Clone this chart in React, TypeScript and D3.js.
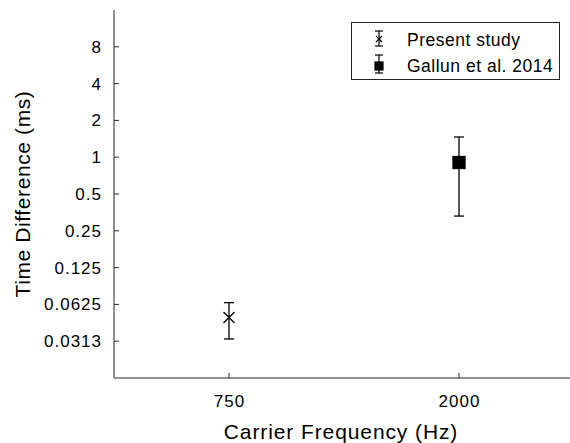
import React from "react";
import * as d3 from "d3";

const categories = ["750", "2000"];
const yTickValues = [0.03125, 0.0625, 0.125, 0.25, 0.5, 1, 2, 4, 8];
const yTickLabels = ["0.0313", "0.0625", "0.125", "0.25", "0.5", "1", "2", "4", "8"];

const presentStudy = [{ cat: "750", mean: 0.0488, lo: 0.0326, hi: 0.0646 }];
const gallun2014 = [{ cat: "2000", mean: 0.905, lo: 0.33, hi: 1.463 }];

const W = 570;
const H = 443;
const left = 114;
const bottom = 378;
const top = 10;
const FONT = "Liberation Sans, Arial, Helvetica, sans-serif";

export default function App() {
  const x = d3.scaleLinear().domain([0.5, 2.5]).range([left, 574]);
  const xc = (c: string) => x(categories.indexOf(c) + 1);
  const y = d3.scaleLog().base(2).domain([Math.pow(2, -6), 16]).range([bottom, top]);
  const cap = 5;
  const tickLS = 1.0;

  return (
    <svg width={W} height={H} style={{ position: "absolute", left: 0, top: 0, background: "#fff" }} fontFamily={FONT}>
      <rect width={W} height={H} fill="#fff" />
      {/* axes */}
      <line x1={left} x2={left} y1={top} y2={bottom} stroke="#262626" strokeWidth={1} />
      <line x1={left} x2={W} y1={bottom} y2={bottom} stroke="#262626" strokeWidth={1} />
      {yTickValues.map((v, i) => (
        <g key={i}>
          <line x1={left} x2={left + 5} y1={y(v)} y2={y(v)} stroke="#262626" />
          <text
            x={left - 13 + tickLS}
            y={y(v)}
            dy="0.35em"
            textAnchor="end"
            fontSize={17}
            letterSpacing={tickLS}
            fill="#000"
          >
            {yTickLabels[i]}
          </text>
        </g>
      ))}
      {categories.map((c) => (
        <g key={c}>
          <line x1={xc(c)} x2={xc(c)} y1={bottom} y2={bottom - 5} stroke="#262626" />
          <text x={xc(c) + tickLS / 2} y={bottom + 29} textAnchor="middle" fontSize={17} letterSpacing={tickLS} fill="#000">
            {c}
          </text>
        </g>
      ))}
      <text x={(left + 574) / 2 - 3} y={439} textAnchor="middle" fontSize={21} letterSpacing={0.9} fill="#000">
        Carrier Frequency (Hz)
      </text>
      <text
        transform={`translate(30,${(top + bottom) / 2}) rotate(-90)`}
        textAnchor="middle"
        fontSize={21}
        letterSpacing={0.6}
        fill="#000"
      >
        Time Difference (ms)
      </text>

      {/* present study */}
      {presentStudy.map((d) => {
        const cx = xc(d.cat);
        const cy = y(d.mean);
        return (
          <g key={d.cat} stroke="#000" strokeWidth={1.3} fill="none">
            <line x1={cx} x2={cx} y1={y(d.hi)} y2={y(d.lo)} />
            <line x1={cx - cap} x2={cx + cap} y1={y(d.hi)} y2={y(d.hi)} />
            <line x1={cx - cap} x2={cx + cap} y1={y(d.lo)} y2={y(d.lo)} />
            <path d={`M${cx - 5.5},${cy - 5.5}L${cx + 5.5},${cy + 5.5}M${cx - 5.5},${cy + 5.5}L${cx + 5.5},${cy - 5.5}`} />
          </g>
        );
      })}
      {/* Gallun */}
      {gallun2014.map((d) => {
        const cx = xc(d.cat);
        const cy = y(d.mean);
        return (
          <g key={d.cat} stroke="#000" strokeWidth={1.3}>
            <line x1={cx} x2={cx} y1={y(d.hi)} y2={y(d.lo)} />
            <line x1={cx - cap} x2={cx + cap} y1={y(d.hi)} y2={y(d.hi)} />
            <line x1={cx - cap} x2={cx + cap} y1={y(d.lo)} y2={y(d.lo)} />
            <rect x={cx - 6} y={cy - 6} width={12} height={12} fill="#000" />
          </g>
        );
      })}

      {/* legend */}
      <rect x={351.5} y={22.5} width={208} height={57} fill="#fff" stroke="#262626" strokeWidth={1} />
      <g stroke="#000" strokeWidth={1.2} fill="none">
        <line x1={379} x2={379} y1={31} y2={46} />
        <line x1={375} x2={383} y1={31} y2={31} />
        <line x1={375} x2={383} y1={46} y2={46} />
        <path d="M376,36L382,42M376,42L382,36" />
        <line x1={379} x2={379} y1={55} y2={73} />
        <line x1={375} x2={383} y1={55} y2={55} />
        <line x1={375} x2={383} y1={73} y2={73} />
        <rect x={375} y={62} width={8} height={8} fill="#000" />
      </g>
      <text x={407} y={40} dy="0.35em" fontSize={17.5} letterSpacing={0.5} fill="#000">Present  study</text>
      <text x={407} y={66} dy="0.35em" fontSize={17.5} letterSpacing={0.5} fill="#000">Gallun et al. 2014</text>
    </svg>
  );
}
